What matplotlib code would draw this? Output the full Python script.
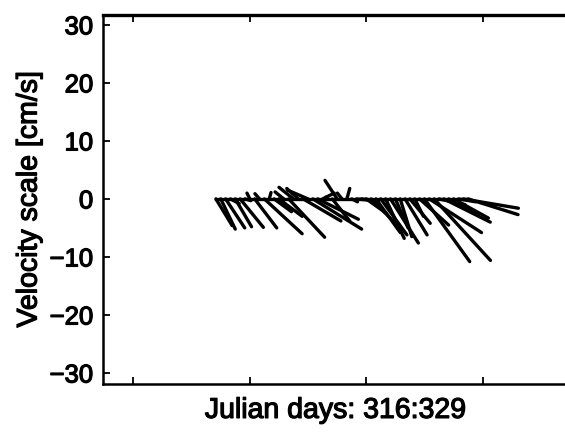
import matplotlib
matplotlib.use("Agg")
import matplotlib.pyplot as plt
import matplotlib.patheffects as pe
import numpy as np

# sample times (julian day) and velocity components [cm/s]
days = [316.00, 316.25, 316.50, 316.75, 317.00, 317.25, 317.50, 317.75,
        318.00, 318.25, 318.50, 318.75, 319.00, 319.25, 319.50, 319.75,
        320.00, 320.25, 320.50, 320.75, 321.00, 321.25, 321.50, 321.75,
        322.00, 322.25, 322.50, 322.75, 323.00, 323.25, 323.50, 323.75,
        324.00, 324.25, 324.50, 324.75, 325.00, 325.25, 325.50, 325.75,
        326.00, 326.25, 326.50, 326.75, 327.00, 327.25, 327.50, 327.75,
        328.00, 328.25, 328.50, 328.75, 329.00]
u = [2.8, 2.5, 3.3, 1.5, 2.8, 4.0, 1.0, -0.5, 3.8, -0.8, 6.5, 0.3, 3.0, 4.0,
     -1.5, 6.2, -2.5, -2.0, 6.5, -3.5, 8.4, 7.0, 2.0, -0.3, 3.0, -2.1, -0.8,
     0.5, 1.0, 2.0, 3.0, 3.5, 4.5, 4.2, 4.5, 3.2, 4.8, 2.2, 2.0, 3.8, 3.5,
     1.5, 5.0, 7.8, 9.0, 9.7, 4.5, 8.0, 5.0, 6.0, 3.0, 9.5, 8.6]
v = [-4.6, -5.2, -5.0, -0.8, -4.8, -4.9, -0.3, 1.0, -5.0, 0.9, -6.0, 1.1,
     -2.2, -3.0, 1.2, -6.6, 2.0, 1.8, -3.8, 1.5, -5.2, -3.5, 1.0, 0.3, -3.8,
     3.2, 1.0, 1.8, -0.5, -0.2, -0.3, -2.5, -4.5, -5.8, -6.2, -6.8, -7.6,
     -5.0, -6.5, -6.2, -4.2, -3.0, -4.5, -10.8, -5.8, -10.6, -1.0, -4.0,
     -2.5, -3.3, -0.5, -1.6, -2.7]

yticks = [-30, -20, -10, 0, 10, 20, 30]
xticks = [311.75, 317.75, 323.75, 329.75]

plt.rcParams['font.family'] = ['Liberation Sans', 'DejaVu Sans']

W, H = 565, 434
fig = plt.figure(figsize=(W / 100.0, H / 100.0), dpi=100)
ax_l, ax_r, ax_t, ax_b = 103, 568, 15, 384
ax = fig.add_axes([ax_l / W, (H - ax_b) / H, (ax_r - ax_l) / W, (ax_b - ax_t) / H])

xlim = (310.18, 310.18 + (ax_r - ax_l) / 19.4)
ylim = (-31.9, 31.7)
ax.set_xlim(xlim)
ax.set_ylim(ylim)

# days per cm/s so that sticks keep their true direction on screen
px_per_day = (ax_r - ax_l) / (xlim[1] - xlim[0])
px_per_cms = (ax_b - ax_t) / (ylim[1] - ylim[0])
k = px_per_cms / px_per_day

t = np.array(days)
uu = np.array(u)
vv = np.array(v)
for i in range(len(t)):
    ax.plot([t[i], t[i] + k * uu[i]], [0, vv[i]], color='black', lw=2.4,
            solid_capstyle='round')
ax.plot([t[0], t[-1]], [0, 0], color='black', lw=2.4)

ax.set_yticks(yticks)
ax.set_xticks(xticks)
ax.set_xticklabels([])
ax.tick_params(direction='in', length=5, width=1.3, top=True, right=False,
               labelsize=18.5, pad=7)
for s in ax.spines.values():
    s.set_linewidth(1.8)
ax.spines['top'].set_linewidth(2.4)

ax.set_ylabel("Velocity scale [cm/s]", fontsize=20.5, labelpad=5)
ax.set_xlabel("Julian days: 316:329", fontsize=20.5, labelpad=3)

# scanned look: slightly heavier glyphs
bold = [pe.withStroke(linewidth=0.9, foreground='black')]
for txt in ax.get_yticklabels() + [ax.xaxis.label, ax.yaxis.label]:
    txt.set_path_effects(bold)

fig.savefig("out.png", dpi=100)
